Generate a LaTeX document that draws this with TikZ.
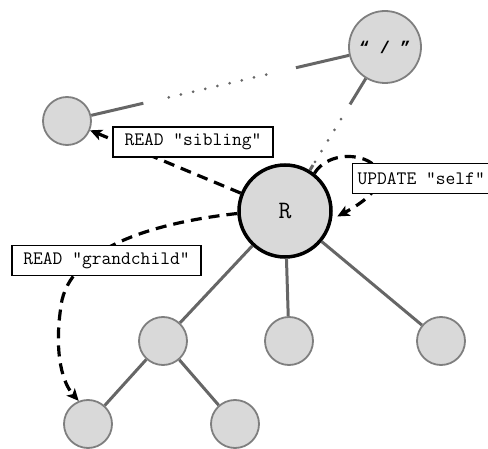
\documentclass[tikz,border=0pt]{standalone}
\usepackage{fontspec}
\newfontfamily\slashfont{Liberation Mono}
\newfontfamily\labelfont{Latin Modern Mono}
\usetikzlibrary{arrows.meta, calc}
\definecolor{colorNode}{HTML}{D9D9D9}
\definecolor{colorEdge}{HTML}{666666}
\definecolor{colorRim}{HTML}{7F7F7F}

\begin{document}
\begin{tikzpicture}[x=1pt, y=-1pt,
    vertex/.style={circle, draw=colorRim, line width=1.8pt, fill=colorNode, minimum size=48pt, inner sep=0pt},
    edge/.style={draw=colorEdge, line width=3pt},
    gap/.style={draw=colorEdge, line width=3pt, line cap=round, dash pattern=on 0pt off 12.5pt},
    access/.style={draw=black, line width=3.2pt, dash pattern=on 11pt off 7pt, -{Stealth[length=12pt, width=11pt, inset=3pt]}},
    op/.style={draw=black, line width=1.2pt, fill=white, minimum height=30pt, font=\labelfont\fontsize{19}{22}\selectfont}]
        \useasboundingbox (0,0) rectangle (488,449);
        \node[vertex, minimum size=72pt] (root) at (385,47) {\slashfont\bfseries\fontsize{17}{20}\selectfont “ / ”};
        \node[vertex] (sib) at (67,121) {};
        \node[vertex, draw=black, line width=3.5pt, minimum size=92pt] (r) at (285,211) {\labelfont\fontsize{25}{28}\selectfont R};
        \node[vertex] (c1) at (163,341) {};
        \node[vertex] (c2) at (289,341) {};
        \node[vertex] (c3) at (441,341) {};
        \node[vertex] (g1) at (88,424) {};
        \node[vertex] (g2) at (235,424) {};
        \coordinate (s1) at ($(sib)!0.24!(root)$);
        \coordinate (s2) at ($(sib)!0.32!(root)$);
        \coordinate (s3) at ($(sib)!0.64!(root)$);
        \coordinate (s4) at ($(sib)!0.72!(root)$);
        \coordinate (p1) at ($(r)!0.28!(root)$);
        \coordinate (p2) at ($(r)!0.30!(root)$);
        \coordinate (p3) at ($(r)!0.61!(root)$);
        \coordinate (p4) at ($(r)!0.65!(root)$);
        \path[edge] (sib) -- (s1);
        \path[gap] (s2) -- (s3);
        \path[edge] (s4) -- (root);
        \path[edge] (r) -- (p1);
        \path[gap] (p2) -- (p3);
        \path[edge] (p4) -- (root);
        \path[edge] (r) -- (c1);
        \path[edge] (r) -- (c2);
        \path[edge] (r) -- (c3);
        \path[edge] (c1) -- (g1);
        \path[edge] (c1) -- (g2);
        \path[access] (r.158) -- (sib.-22);
        \path[access, shorten >=6pt] (r.52) .. controls (338,135) and (428,168) .. (r.-10);
        \path[access] (r.183) .. controls (160,222) and (75,245) .. (62,300) .. controls (54,345) and (60,380) .. (g1.112);
        \node[op, minimum width=160pt] (lsib) at (193,142) {READ “sibling”};
        \node[op, anchor=west, inner xsep=5pt] (lself) at (352,178.5) {UPDATE “self”\hspace{20pt}};
        \node[op, minimum width=189pt] (lgrand) at (106.5,260.5) {READ “grandchild”};
    \end{tikzpicture}
\end{document}
